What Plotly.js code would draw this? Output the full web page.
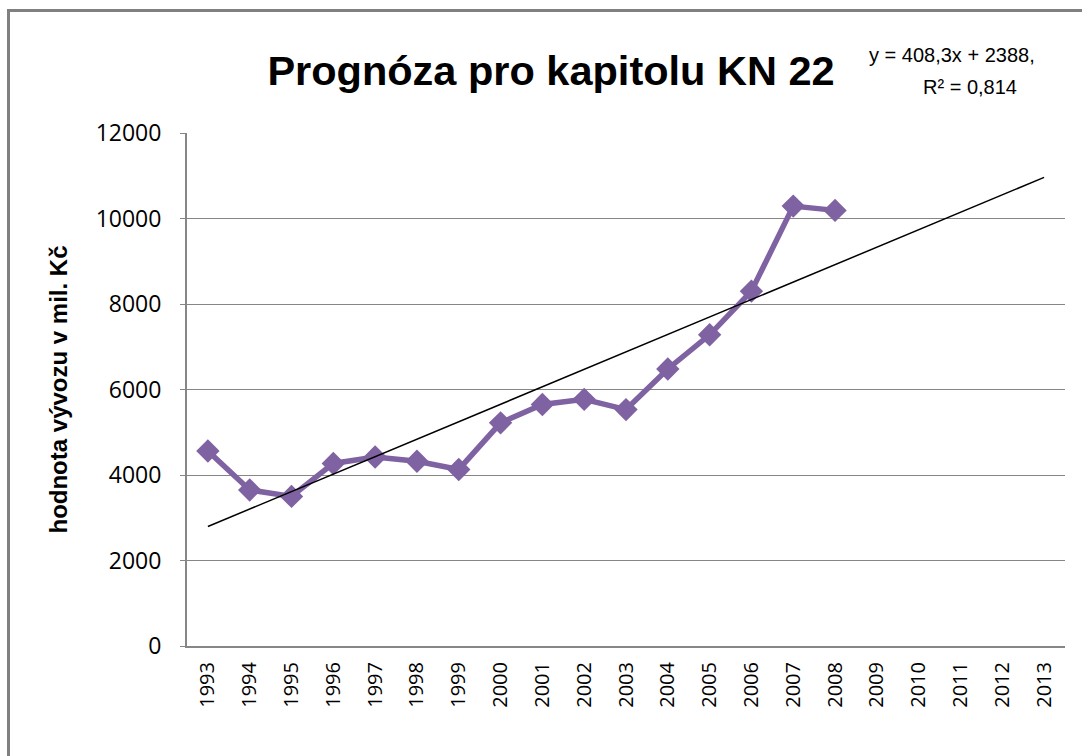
<!DOCTYPE html>
<html>
<head>
<meta charset="utf-8">
<script src="https://cdn.plot.ly/plotly-3.0.1.min.js"></script>
<style>
  html, body { margin: 0; padding: 0; background: #fff; }
  #chart { width: 1082px; height: 756px; position: absolute; left: 0; top: 0; }
  #frame { position: absolute; left: 7px; top: 9px; width: 1100px; height: 800px;
           border-left: 3px solid #808080; border-top: 3px solid #808080;
           pointer-events: none; z-index: 10; }
</style>
</head>
<body>
<div id="chart"></div>
<div id="frame"></div>
<script>
const years = ['1993','1994','1995','1996','1997','1998','1999','2000','2001','2002','2003',
               '2004','2005','2006','2007','2008','2009','2010','2011','2012','2013'];
const dataYears = ['1993','1994','1995','1996','1997','1998','1999','2000',
                   '2001','2002','2003','2004','2005','2006','2007','2008'];
const exportValues = [4560, 3650, 3500, 4270, 4420, 4320, 4130, 5220,
                      5650, 5770, 5530, 6480, 7280, 8300, 10290, 10190];
const trendYears = ['1993', '2013'];
const trendValues = [2796, 10962];
const yTicks = [0, 2000, 4000, 6000, 8000, 10000, 12000];
const titleText = 'Prognóza pro kapitolu KN 22';
const yTitleText = 'hodnota vývozu v mil. Kč';
const eqLine1 = 'y = 408,3x + 2388,';
const eqLine2 = 'R² = 0,814';

const traces = [
  {
    x: dataYears, y: exportValues, type: 'scatter', mode: 'lines+markers',
    line: {color: '#7F62A1', width: 5.5},
    marker: {symbol: 'diamond', size: 18, color: '#7F62A1'},
    hoverinfo: 'x+y', showlegend: false
  },
  {
    x: trendYears, y: trendValues, type: 'scatter', mode: 'lines',
    line: {color: '#000000', width: 1.5},
    showlegend: false
  }
];

const layout = {
  width: 1082, height: 756,
  margin: {l: 187, r: 17, t: 133, b: 110, pad: 0},
  paper_bgcolor: '#ffffff', plot_bgcolor: '#ffffff',
  showlegend: false,
  title: {
    text: '<b>' + titleText + '</b>',
    font: {family: 'Liberation Sans, Arial, sans-serif', size: 41.5, color: '#000'},
    x: 551 / 1082, xref: 'container', xanchor: 'center', y: 0.907, yref: 'container', yanchor: 'middle'
  },
  xaxis: {
    type: 'category', categoryorder: 'array', categoryarray: years,
    tickvals: years, ticktext: years,
    range: [-0.5, 20.5],
    tickangle: -90,
    tickfont: {family: 'Open Sans, sans-serif', size: 20, color: '#000'},
    ticklabelstandoff: 6,
    showline: true, linecolor: '#868686', linewidth: 2,
    showgrid: false, ticks: '', zeroline: false, fixedrange: true
  },
  yaxis: {
    range: [0, 12000],
    tickvals: yTicks, ticktext: yTicks.map(String),
    tickfont: {family: 'Open Sans, sans-serif', size: 23, color: '#000'},
    ticklabelstandoff: 14,
    showline: true, linecolor: '#868686', linewidth: 2,
    showgrid: true, gridcolor: '#868686', gridwidth: 1,
    ticks: 'outside', ticklen: 5, tickcolor: '#868686', tickwidth: 1,
    zeroline: false, fixedrange: true,
    title: {
      text: '<b>' + yTitleText + '</b>',
      font: {family: 'Liberation Sans, Arial, sans-serif', size: 24, color: '#000'},
      standoff: 21
    }
  },
  annotations: [
    {text: eqLine1, xref: 'paper', yref: 'paper', x: (952 - 187) / 878, y: (646 - 55) / 513,
     xanchor: 'center', yanchor: 'middle', showarrow: false,
     font: {family: 'Liberation Sans, Arial, sans-serif', size: 20, color: '#000'}},
    {text: eqLine2, xref: 'paper', yref: 'paper', x: (970 - 187) / 878, y: (646 - 87) / 513,
     xanchor: 'center', yanchor: 'middle', showarrow: false,
     font: {family: 'Liberation Sans, Arial, sans-serif', size: 20, color: '#000'}}
  ]
};

Plotly.newPlot('chart', traces, layout, {displayModeBar: false, staticPlot: true});
</script>
</body>
</html>
